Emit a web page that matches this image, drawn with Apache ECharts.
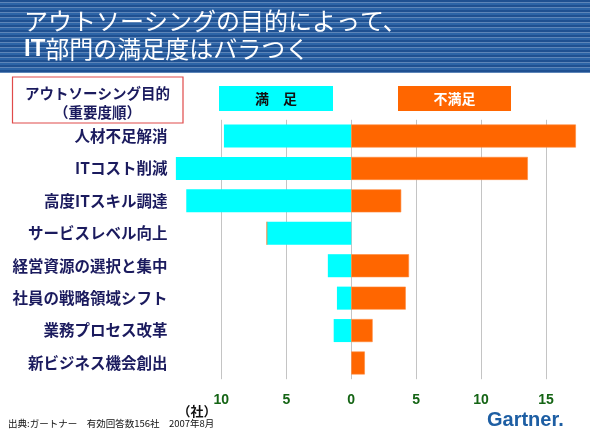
<!DOCTYPE html>
<html>
<head>
<meta charset="utf-8">
<script src="https://cdn.jsdelivr.net/npm/echarts@6/dist/echarts.min.js"></script>
<style>
  html, body { margin: 0; padding: 0; background: #fff; }
  #chart { width: 590px; height: 443px; }
</style>
</head>
<body>
<div id="chart"></div>
<script>
// Outsourcing purpose vs. IT department satisfaction (companies)
var categories = ['人材不足解消', 'ITコスト削減', '高度ITスキル調達', 'サービスレベル向上',
    '経営資源の選択と集中', '社員の戦略領域シフト', '業務プロセス改革', '新ビジネス機会創出'];
var satisfied = [9.8, 13.5, 12.7, 6.5, 1.8, 1.1, 1.35, 0];
var unsatisfied = [17.3, 13.6, 3.85, 0, 4.45, 4.2, 1.65, 1.05];
var tickValues = [-10, -5, 0, 5, 10, 15];

var jp = '"Noto Sans CJK JP", sans-serif';
var navy = '#1b1b5e';

// striped banner behind the title
var stripes = [];
for (var y = 0; y < 73; y += 2.5) {
    stripes.push({
        type: 'rect', silent: true,
        shape: { x: 0, y: y, width: 590, height: Math.min(2.5, 73 - y) },
        style: { fill: Math.round(y / 2.5) % 2 ? '#2c64a7' : '#1f5091' }
    });
}

var chart = echarts.init(document.getElementById('chart'));
chart.setOption({
    backgroundColor: '#fff',
    animation: false,
    grid: { left: 156.4, right: 5, top: 119.8, bottom: 63.8 },
    xAxis: {
        type: 'value',
        min: -15, max: 18, interval: 5,
        axisLine: { show: false },
        axisTick: { show: false },
        splitLine: { show: true, showMinLine: false, showMaxLine: false,
            lineStyle: { color: '#c4c4c4', width: 1 } },
        axisLabel: {
            margin: 14,
            color: '#146414', fontWeight: 'bold', fontSize: 14,
            fontFamily: 'Liberation Sans, Arial, sans-serif',
            formatter: function(v) {
                return tickValues.indexOf(v) >= 0 ? String(Math.abs(v)) : '';
            }
        }
    },
    yAxis: {
        type: 'category',
        inverse: true,
        data: categories,
        axisLine: { show: false },
        axisTick: { show: false },
        axisLabel: {
            margin: -11,
            color: navy, fontSize: 15.5, fontWeight: 'bold', fontFamily: jp
        }
    },
    series: [{
        name: '満足',
        type: 'bar',
        stack: 'total',
        barWidth: '71%',
        itemStyle: { color: '#00ffff' },
        data: satisfied.map(function(v) { return -v; })
    }, {
        name: '不満足',
        type: 'bar',
        stack: 'total',
        barWidth: '71%',
        itemStyle: { color: '#ff6600', borderColor: '#ff8a3d', borderWidth: 0.6 },
        data: unsatisfied
    }],
    graphic: stripes.concat([
        {
            type: 'text', left: 24, top: 9,
            style: { text: 'アウトソーシングの目的によって、', fill: '#fff',
                font: '24px ' + jp }
        },
        {
            type: 'text', left: 24, top: 37,
            style: {
                text: '{b|IT}部門の満足度はバラつく', fill: '#fff', font: '24px ' + jp,
                rich: { b: { fontSize: 24, fontWeight: 'bold', fontFamily: 'Liberation Sans, Arial, sans-serif', fill: '#fff' } }
            }
        },
        {
            type: 'rect', shape: { x: 12.5, y: 77, width: 170.5, height: 46 },
            style: { fill: '#fff', stroke: '#e04a4a', lineWidth: 1.2 }
        },
        {
            type: 'text', x: 97.5, y: 93,
            style: { text: 'アウトソーシング目的', fill: navy, font: 'bold 14.5px ' + jp,
                align: 'center', verticalAlign: 'middle' }
        },
        {
            type: 'text', x: 97.5, y: 112,
            style: { text: '（重要度順）', fill: navy, font: 'bold 14.5px ' + jp,
                align: 'center', verticalAlign: 'middle' }
        },
        {
            type: 'rect', shape: { x: 219, y: 86, width: 114, height: 25 },
            style: { fill: '#00ffff' }
        },
        {
            type: 'text', x: 276, y: 98.5,
            style: { text: '満　足', fill: '#111', font: 'bold 14px ' + jp,
                align: 'center', verticalAlign: 'middle' }
        },
        {
            type: 'rect', shape: { x: 398, y: 86, width: 113, height: 25 },
            style: { fill: '#ff6600' }
        },
        {
            type: 'text', x: 454.5, y: 98.5,
            style: { text: '不満足', fill: '#fff', font: 'bold 14px ' + jp,
                align: 'center', verticalAlign: 'middle' }
        },
        {
            type: 'text', x: 197, y: 411,
            style: { text: '（社）', fill: '#111', font: 'bold 13px ' + jp,
                align: 'center', verticalAlign: 'middle' }
        },
        {
            type: 'text', x: 8, y: 423,
            style: { text: '出典:ガートナー　有効回答数156社　2007年8月', fill: '#111',
                font: '9.5px ' + jp, verticalAlign: 'middle' }
        },
        {
            type: 'text', x: 487, y: 420,
            style: { text: 'Gartner.', fill: '#1d5ea3',
                font: 'bold 20px "Liberation Sans", Arial, sans-serif', verticalAlign: 'middle' }
        }
    ])
});
</script>
</body>
</html>
